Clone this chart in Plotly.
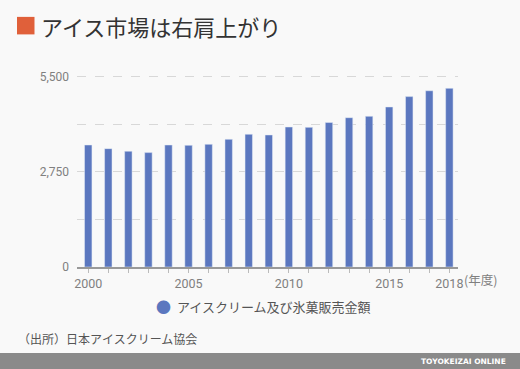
import plotly.graph_objects as go

years = list(range(2000, 2019))
sales = [3530, 3425, 3350, 3310, 3530, 3520, 3550, 3695, 3840, 3820,
         4050, 4040, 4180, 4320, 4360, 4630, 4930, 5100, 5170]
y_grid = [0, 1375, 2750, 4125, 5500]
y_tick_labels = ["0", "", "2,750", "", "5,500"]
x_labels = {2000: "2000", 2005: "2005", 2010: "2010", 2015: "2015", 2018: "2018"}
series_name = "アイスクリーム及び氷菓販売金額"
title = "アイス市場は右肩上がり"
source = "（出所）日本アイスクリーム協会"
unit = "(年度)"

FONT = "Noto Sans CJK JP"
NUM = "Roboto"
BG = "#f9f9f9"
BAR = "#5b77bf"

Y0 = 267.0   # pixel of y=0
PPU = 190.0 / 5500  # pixels per unit
YTOP = 5700
T = Y0 - YTOP * PPU
PH = Y0 - T
L, R = 77, 458
PW = R - L

def px(x):
    return (x - L) / PW

def py(y):
    return (Y0 - y) / PH

fig = go.Figure()
fig.add_trace(go.Bar(x=years, y=sales, marker_color=BAR, name=series_name,
                     showlegend=False))

fig.update_layout(
    width=520, height=369,
    paper_bgcolor=BG, plot_bgcolor=BG,
    margin=dict(l=L, r=520 - R, t=T, b=369 - Y0),
    bargap=0.63,
    font=dict(family=NUM, color="#808080", size=12),
    xaxis=dict(range=[1999.44, 2018.43], tickvals=years,
               ticktext=[x_labels.get(v, "") for v in years],
               showgrid=False, zeroline=False,
               showline=True, linecolor="#999", linewidth=2,
               ticks="outside", ticklen=4, tickcolor="#bbb",
               tickfont=dict(family=NUM, size=12.5, color="#808080")),
    yaxis=dict(range=[0, YTOP], tickvals=y_grid, ticktext=y_tick_labels,
               showgrid=True, gridcolor="#d8d8d8", griddash="dash", gridwidth=1,
               zeroline=False, showline=False, ticks="",
               tickfont=dict(family=NUM, size=12, color="#808080"), ticklabelstandoff=7),
)

# title marker square
fig.add_shape(type="rect", xref="paper", yref="paper",
              x0=px(17), x1=px(34.5), y0=py(34.5), y1=py(17),
              fillcolor="#e0603a", line_width=0)
fig.add_annotation(text=title, xref="paper", yref="paper",
                   x=px(39), y=py(26), xanchor="left", yanchor="middle",
                   showarrow=False, font=dict(family=FONT, size=22, color="#333"))
fig.add_annotation(text=unit, xref="paper", yref="paper",
                   x=px(462), y=py(279.5), xanchor="left", yanchor="middle",
                   showarrow=False, font=dict(family=FONT, size=12.5, color="#808080"))
# legend
fig.add_annotation(text="●", xref="paper", yref="paper",
                   x=px(163), y=py(306.5), xanchor="center", yanchor="middle",
                   showarrow=False, font=dict(family=FONT, size=15, color=BAR))
fig.add_annotation(text=series_name, xref="paper", yref="paper",
                   x=px(175), y=py(306.5), xanchor="left", yanchor="middle",
                   showarrow=False, font=dict(family=FONT, size=13, color="#555"))
fig.add_annotation(text=source, xref="paper", yref="paper",
                   x=px(16), y=py(338.5), xanchor="left", yanchor="middle",
                   showarrow=False, font=dict(family=FONT, size=12, color="#555"))
# footer
fig.add_shape(type="rect", xref="paper", yref="paper",
              x0=px(0), x1=px(520), y0=py(369), y1=py(353),
              fillcolor="#8a8a8a", line_width=0)
fig.add_annotation(text="<b>TOYOKEIZAI ONLINE</b>", xref="paper", yref="paper",
                   x=px(508), y=py(361), xanchor="right", yanchor="middle",
                   showarrow=False, font=dict(family="DejaVu Sans", size=7.5, color="#ffffff"))

fig.write_html("out.html", config={"displayModeBar": False})
with open("out.html", encoding="utf-8") as f:
    html = f.read()
html = html.replace("<body>", '<body style="margin:0;padding:0;overflow:hidden">', 1)
with open("out.html", "w", encoding="utf-8") as f:
    f.write(html)
